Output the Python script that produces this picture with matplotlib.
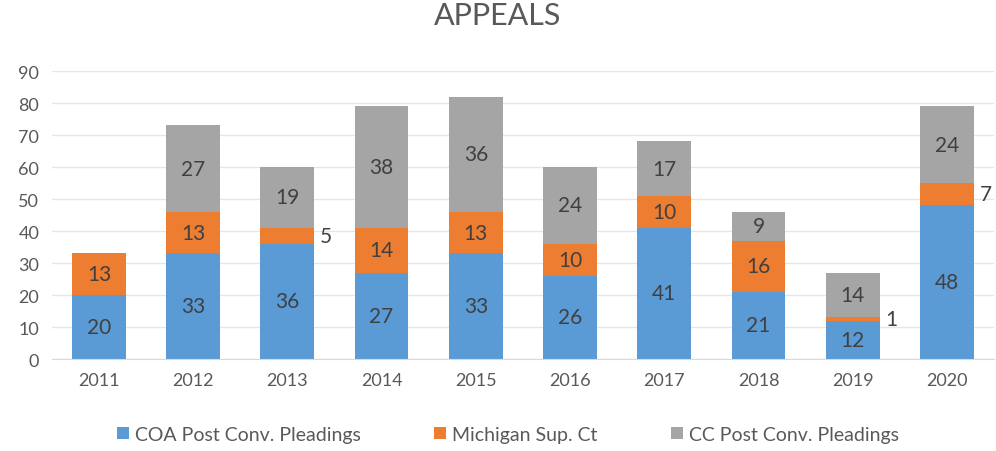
import numpy as np
import matplotlib
matplotlib.use("Agg")
import matplotlib.pyplot as plt

plt.rcParams['font.family'] = ['Lato', 'DejaVu Sans']

years = ['2011', '2012', '2013', '2014', '2015', '2016', '2017', '2018', '2019', '2020']
coa = [20, 33, 36, 27, 33, 26, 41, 21, 12, 48]
michigan = [13, 13, 5, 14, 13, 10, 10, 16, 1, 7]
cc = [0, 27, 19, 38, 36, 24, 17, 9, 14, 24]

series = [
    ('COA Post Conv. Pleadings', coa, '#5B9BD5'),
    ('Michigan Sup. Ct', michigan, '#ED7D31'),
    ('CC Post Conv. Pleadings', cc, '#A5A5A5'),
]

fig = plt.figure(figsize=(9.96, 4.52), dpi=100)
ax = fig.add_axes([0.052, 0.2035, 0.946, 0.637])

x = np.arange(len(years))
w = 0.57
bottom = np.zeros(len(years))
for name, vals, col in series:
    vals = np.array(vals)
    ax.bar(x, vals, w, bottom=bottom, color=col, label=name, zorder=2)
    for i, v in enumerate(vals):
        if v == 0:
            continue
        if v <= 7:
            # small segments: label beside the bar
            ax.text(x[i] + w / 2 + 0.06, bottom[i] + v / 2, str(v), ha='left',
                    va='center', fontsize=15, color='#404040')
        else:
            ax.text(x[i], bottom[i] + v / 2, str(v), ha='center', va='center',
                    fontsize=15, color='#404040')
    bottom += vals

ax.set_xlim(-0.5, len(years) - 0.5)
ax.set_ylim(0, 90)
ax.set_yticks(range(0, 91, 10))
ax.set_xticks(x)
ax.set_xticklabels(years)
ax.grid(axis='y', color='#E6E6E6', linewidth=1, zorder=0)
for s in ['top', 'right', 'left']:
    ax.spines[s].set_visible(False)
ax.spines['bottom'].set_color('#D9D9D9')
ax.tick_params(length=0, labelsize=13, colors='#595959', pad=9)

fig.suptitle('APPEALS', y=0.995, fontsize=22, color='#595959')
fig.legend(loc='lower center', bbox_to_anchor=(0.51, -0.02), ncol=3, frameon=False,
           fontsize=14, labelcolor='#595959', handlelength=0.6, handleheight=0.6,
           handletextpad=0.3, columnspacing=3.8)

fig.savefig('out.png', dpi=100)
